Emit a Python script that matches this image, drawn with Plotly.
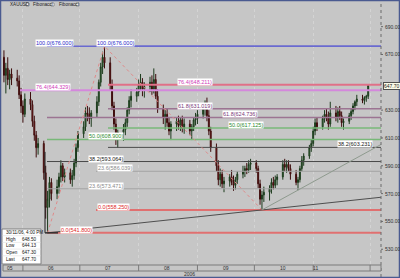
import plotly.graph_objects as go
import pandas as pd

# ---------------- data ----------------
trading_days = {
    "2006-05": [22, 23, 24, 25, 26, 29, 30, 31],
    "2006-06": [1, 2, 5, 6, 7, 8, 9, 12, 13, 14, 15, 16, 19, 20, 21, 22, 23, 26, 27, 28, 29, 30],
    "2006-07": [3, 4, 5, 6, 7, 10, 11, 12, 13, 14, 17, 18, 19, 20, 21, 24, 25, 26, 27, 28, 31],
    "2006-08": [1, 2, 3, 4, 7, 8, 9, 10, 11, 14, 15, 16, 17, 18, 21, 22, 23, 24, 25, 28, 29, 30, 31],
    "2006-09": [1, 4, 5, 6, 7, 8, 11, 12, 13, 14, 15, 18, 19, 20, 21, 22, 25, 26, 27, 28, 29],
    "2006-10": [2, 3, 4, 5, 6, 9, 10, 11, 12, 13, 16, 17, 18, 19, 20, 23, 24, 25, 26, 27, 30, 31],
    "2006-11": [1, 2, 3, 6, 7, 8, 9, 10, 13, 14, 15, 16, 17, 20, 21, 22, 23, 24, 27, 28, 29, 30],
}

opens = [
    668, 655, 660, 652, 656, 653, 651, 641,
    633, 627, 638, 634, 622, 612, 603, 606, 585, 560, 566, 578, 570, 575, 582, 590, 582, 585, 580, 583, 592, 603,
    613, 618, 628, 627, 624, 628, 636, 650, 661, 668, 664, 648, 633, 620, 610, 614, 616, 621, 630, 637, 640,
    643, 648, 650, 645, 647, 650, 645, 652, 640, 631, 625, 627, 621, 615, 620, 622, 619, 623, 617, 620, 615, 618, 623,
    624, 627, 631, 634, 626, 615, 603, 590, 580, 584, 577, 579, 582, 578, 576, 580, 584, 586, 588, 587, 591,
    592, 588, 577, 566, 569, 571, 574, 578, 576, 580, 582, 591, 589, 591, 588, 584, 578, 580, 588, 594, 597, 603,
    606, 615, 621, 618, 624, 627, 625, 620, 628, 625, 629, 626, 621, 622, 626, 629, 633, 636, 638, 637, 639, 640,
]
highs = [
    673, 664, 668, 659, 660, 659, 655, 646,
    637, 642, 643, 637, 626, 615, 610, 608, 590, 572, 582, 581, 580, 585, 594, 592, 588, 588, 587, 595, 606, 615,
    622, 632, 633, 632, 630, 640, 652, 664, 672, 676, 668, 652, 636, 624, 616, 620, 624, 632, 640, 645, 646,
    652, 656, 653, 650, 654, 655, 660, 656, 645, 634, 630, 631, 625, 622, 625, 626, 625, 626, 624, 623, 620, 625, 628,
    630, 634, 637, 639, 630, 618, 606, 594, 588, 587, 582, 584, 587, 583, 582, 586, 590, 590, 592, 594, 595,
    594, 590, 580, 572, 575, 576, 581, 582, 583, 584, 594, 595, 594, 594, 591, 587, 582, 590, 597, 599, 605, 609,
    618, 624, 625, 626, 630, 631, 629, 636, 633, 632, 633, 629, 624, 628, 631, 635, 637, 641, 641, 640, 641, 648.5,
]
lows = [
    650, 642, 648, 645, 648, 647, 638, 628,
    621, 625, 630, 618, 608, 596, 598, 580, 552, 541.8, 560, 565, 566, 570, 578, 579, 578, 577, 575, 580, 589, 600,
    610, 615, 622, 620, 618, 625, 633, 647, 656, 660, 644, 630, 616, 605, 603, 608, 612, 618, 627, 632, 636,
    640, 644, 640, 639, 643, 641, 642, 638, 628, 620, 616, 618, 612, 608.5, 615, 616, 615, 614, 613, 612, 608.5, 615, 619,
    620, 624, 626, 622, 612, 600, 586, 576, 575, 574, 571, 575, 576, 572, 573, 577, 581, 582, 584, 585, 587,
    585, 574, 562, 558.25, 564, 565, 570, 573, 574, 576, 580, 586, 585, 586, 580, 576, 572.5, 578, 586, 590, 595, 600,
    604, 612, 615, 616, 621, 622, 616, 618, 622, 621, 623, 618, 616, 620, 623, 627, 630, 633, 635, 634, 636, 638,
]
closes = [
    655, 660, 652, 656, 653, 651, 641, 633,
    627, 638, 634, 622, 612, 603, 606, 585, 560, 566, 578, 570, 575, 582, 590, 582, 585, 580, 583, 592, 603, 613,
    618, 628, 627, 624, 628, 636, 650, 661, 668, 664, 648, 633, 620, 610, 614, 616, 621, 630, 637, 640, 643,
    648, 650, 645, 647, 650, 645, 652, 640, 631, 625, 627, 621, 615, 620, 622, 619, 623, 617, 620, 615, 618, 623, 624,
    627, 631, 634, 626, 615, 603, 590, 580, 584, 577, 579, 582, 578, 576, 580, 584, 586, 588, 587, 591, 592,
    588, 577, 566, 569, 571, 574, 578, 576, 580, 582, 591, 589, 591, 588, 584, 578, 580, 588, 594, 597, 603, 606,
    615, 621, 618, 624, 627, 625, 620, 628, 625, 629, 626, 621, 622, 626, 629, 633, 636, 638, 637, 639, 640, 647.7,
]

# Fibonacci retracements: (low date, low, high date, high)
fib1 = ("2006-06-14", 541.80, "2006-07-14", 676.00)
fib2 = ("2006-10-05", 558.25, "2006-07-14", 676.00)
fib_ratios = [0.0, 23.6, 38.2, 50.0, 61.8, 76.4, 100.0]

# Trendline anchor points (date, price)
trend_a = [("2006-06-14", 541.80), ("2006-10-05", 558.25)]
trend_b = [("2006-10-05", 558.25), ("2006-10-24", 572.50)]

ytick_vals = [530, 550, 570, 590, 610, 630, 670, 690]
month_labels = ["05", "06", "07", "08", "09", "10", "11"]
month_starts = ["2006-06-01", "2006-07-01", "2006-08-01", "2006-09-01", "2006-10-01", "2006-11-01", "2006-12-01"]
year_label = "2006"
symbol = "XAUUSD"
last_price = 647.70
info_title = "30/11/06, 4:00 PM"
info_rows = [("High", "648.50"), ("Low", "644.13"), ("Open", "647.30"), ("Last", "647.70")]

# --------------------------------------
dates = [f"{m}-{d:02d}" for m, days in trading_days.items() for d in days]
assert len(dates) == len(opens) == len(highs) == len(lows) == len(closes)

X0 = pd.Timestamp("2006-05-21 12:00")
X1 = pd.Timestamp("2006-12-06 18:00")
Y0, Y1 = 519.4, 702.7

# plot area in pixels
PL, PR, PT, PB = 3, 381, 9, 264
W, H = 400, 278
FONT = "Liberation Sans"


def px(p):
    return (p - PL) / (PR - PL)


def py(p):
    return (PB - p) / (PB - PT)


def xdate(p):
    return X0 + (X1 - X0) * px(p)


BG = "#c6c6c6"
fig = go.Figure()
fig.add_trace(go.Candlestick(
    x=dates, open=opens, high=highs, low=lows, close=closes,
    increasing=dict(line=dict(color="#1c3a1c", width=1), fillcolor="#3c8a3c"),
    decreasing=dict(line=dict(color="#3c0c0c", width=1), fillcolor="#b82424"),
    whiskerwidth=0, showlegend=False, hoverinfo="skip",
))

shapes = []
annotations = []

level_style = {
    0.0: ("#e07070", 2, "#e02828"),
    23.6: ("#a4a4a4", 1, "#8a8a8a"),
    38.2: ("#4a4a4a", 1, "#202020"),
    50.0: ("#78b878", 1.5, "#2e8a2e"),
    61.8: ("#9c7492", 1.5, "#7a3a7a"),
    76.4: ("#e07890", 2, "#d03cb8"),
    100.0: ("#6a6ad0", 1.5, "#2a2ac8"),
}
set_cfg = {
    1: dict(fib=fib1, start={r: 47 for r in fib_ratios} | {76.4: 20},
            label={0.0: 60, 23.6: 88, 38.2: 88, 50.0: 88, 61.8: 222, 76.4: 35, 100.0: 35},
            color764="#d488dc"),
    2: dict(fib=fib2, start={r: 108 for r in fib_ratios} | {0.0: 96, 23.6: 96},
            label={0.0: 97, 23.6: 97, 38.2: 337, 50.0: 228, 61.8: 177, 76.4: 177, 100.0: 96},
            color764="#e07088"),
}
for k, cfg in set_cfg.items():
    d_low, lo, d_high, hi = cfg["fib"]
    for r in fib_ratios:
        val = lo + (hi - lo) * r / 100.0
        col, w, tcol = level_style[r]
        if r == 76.4:
            col = cfg["color764"]
        shapes.append(dict(type="line", xref="x", yref="y", x0=xdate(cfg["start"][r]), x1=X1,
                           y0=val, y1=val, line=dict(color=col, width=w), layer="above"))
        annotations.append(dict(x=xdate(cfg["label"][r]), y=val, xref="x", yref="y", xanchor="left",
                                yanchor="middle", yshift=3, showarrow=False,
                                text=f"{r:.1f}({val:.3f})", bgcolor="white", borderpad=0,
                                font=dict(size=5.5, color=tcol, family=FONT)))
    shapes.append(dict(type="line", xref="x", yref="y", x0=d_low, y0=lo, x1=d_high, y1=hi,
                       line=dict(color="#e08a8a", width=1, dash="dot"), layer="above"))


def extend(pts, color):
    (da, va), (db, vb) = pts
    ta, tb = pd.Timestamp(da), pd.Timestamp(db)
    slope = (vb - va) / (tb - ta).total_seconds()
    vend = va + slope * (X1 - ta).total_seconds()
    shapes.append(dict(type="line", xref="x", yref="y", x0=ta, y0=va, x1=X1, y1=vend,
                       line=dict(color=color, width=1), layer="above"))


extend(trend_a, "#4e4e4e")
extend(trend_b, "#8e9a8e")

# black anchor at the June low
shapes.append(dict(type="line", xref="x", yref="y", x0=xdate(45), x1=xdate(45), y0=541.8, y1=600,
                   line=dict(color="#202020", width=1), layer="above"))
shapes.append(dict(type="line", xref="x", yref="y", x0=xdate(45), x1=xdate(58), y0=541.8, y1=541.8,
                   line=dict(color="#303030", width=1.5), layer="above"))

# right axis dashed border
shapes.append(dict(type="line", xref="paper", yref="paper", x0=1, x1=1, y0=py(277), y1=py(0),
                   line=dict(color="#6a6a6a", width=1, dash="dot"), layer="above"))

# y tick labels (right side)
for v in ytick_vals:
    annotations.append(dict(x=px(383.5), y=v, xref="paper", yref="y", xanchor="left", yanchor="middle",
                            showarrow=False, text=f"{v:.2f}",
                            font=dict(size=5, color="#303030", family=FONT)))
    shapes.append(dict(type="line", xref="paper", yref="y", x0=1, x1=px(383), y0=v, y1=v,
                       line=dict(color="#6a6a6a", width=1), layer="above"))

# last price box
annotations.append(dict(x=px(382.5), y=last_price, xref="paper", yref="y", xanchor="left", yanchor="middle",
                        showarrow=False, text=f"{last_price:.2f}", bgcolor="#fbfbe8",
                        bordercolor="#505050", borderwidth=1, borderpad=0,
                        font=dict(size=5, color="#202020", family=FONT)))

# x axis band
shapes.append(dict(type="rect", xref="paper", yref="paper", x0=px(PL), x1=px(PR), y0=py(271), y1=py(265),
                   line=dict(color="#7a7a7a", width=1), fillcolor=BG, layer="above"))
for ms in month_starts:
    shapes.append(dict(type="line", xref="x", yref="paper", x0=ms, x1=ms, y0=py(271), y1=py(265),
                       line=dict(color="#7a7a7a", width=1), layer="above"))
label_px = [10, 51, 108, 167, 226, 283, 315]
for lab, lp in zip(month_labels, label_px):
    annotations.append(dict(x=px(lp), y=py(268), xref="paper", yref="paper", showarrow=False,
                            text=lab, font=dict(size=5, color="#303030", family=FONT),
                            xanchor="center", yanchor="middle"))
annotations.append(dict(x=px(189), y=py(274), xref="paper", yref="paper", showarrow=False,
                        text=year_label, font=dict(size=5, color="#303030", family=FONT),
                        xanchor="center", yanchor="middle"))

# top tabs
tab_texts = [(symbol, 8, 26), ("Fibonacci", 31, 51), ("Fibonacci", 57, 76)]
for t, x0, bx in tab_texts:
    annotations.append(dict(x=px(x0), y=py(4.5), xref="paper", yref="paper", showarrow=False, text=t,
                            xanchor="left", yanchor="middle",
                            font=dict(size=4.6, color="#202020", family=FONT)))
    shapes.append(dict(type="rect", xref="paper", yref="paper", x0=px(bx), x1=px(bx + 3), y0=py(6), y1=py(3),
                       line=dict(color="#505050", width=0.5), fillcolor="white", layer="above"))

# info box
shapes.append(dict(type="rect", xref="paper", yref="paper", x0=px(2), x1=px(41), y0=py(264), y1=py(229),
                   line=dict(color="#808080", width=1), fillcolor="white", layer="above"))
annotations.append(dict(x=px(4), y=py(232), xref="paper", yref="paper", showarrow=False, text=info_title,
                        xanchor="left", yanchor="middle",
                        font=dict(size=4.6, color="#101010", family=FONT)))
for i, (k, v) in enumerate(info_rows):
    yy = 239 + i * 6.7
    shapes.append(dict(type="line", xref="paper", yref="paper", x0=px(2), x1=px(41), y0=py(yy - 3.3),
                       y1=py(yy - 3.3), line=dict(color="#d8d8d8", width=0.5), layer="above"))
    annotations.append(dict(x=px(4), y=py(yy), xref="paper", yref="paper", showarrow=False, text=k,
                            xanchor="left", yanchor="middle",
                            font=dict(size=4.6, color="#101010", family=FONT)))
    annotations.append(dict(x=px(38), y=py(yy), xref="paper", yref="paper", showarrow=False, text=v,
                            xanchor="right", yanchor="middle",
                            font=dict(size=4.6, color="#101010", family=FONT)))

# outer frame
shapes.append(dict(type="rect", xref="paper", yref="paper", x0=px(0.5), x1=px(399.5), y0=py(277.5), y1=py(0.5),
                   line=dict(color="#4a5a90", width=1.5), layer="above"))

fig.update_layout(
    width=W, height=H,
    margin=dict(l=PL, r=W - PR, t=PT, b=H - PB),
    paper_bgcolor=BG, plot_bgcolor=BG,
    shapes=shapes, annotations=annotations,
    showlegend=False,
    xaxis=dict(type="date", range=[X0, X1], rangeslider=dict(visible=False), showticklabels=False,
               tickvals=month_starts, showgrid=True, gridcolor="#d4d4d4", griddash="dot", gridwidth=1,
               zeroline=False, showline=False, ticks=""),
    yaxis=dict(side="right", range=[Y0, Y1], showticklabels=False, showgrid=False, zeroline=False,
               showline=False, ticks="", automargin=False),
)

fig.write_html("out.html")
